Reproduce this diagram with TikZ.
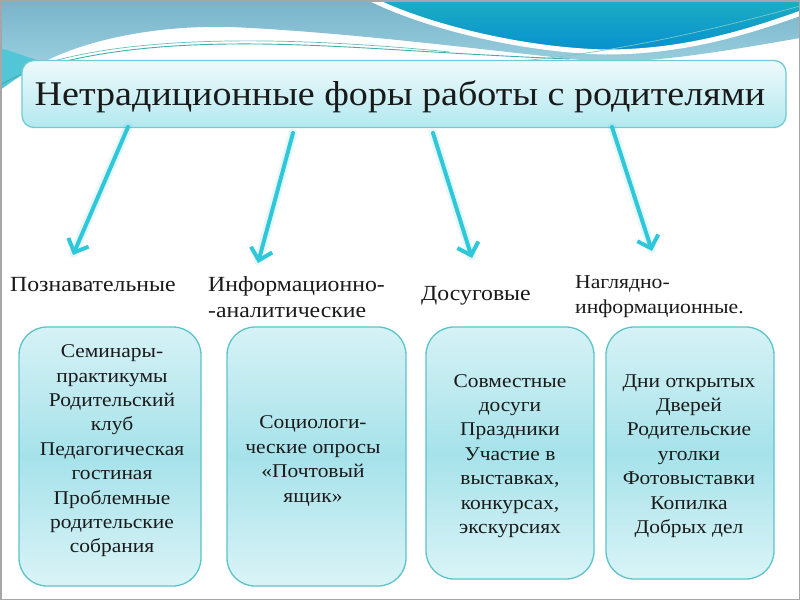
\documentclass[tikz,border=0pt]{standalone}
\usepackage{fontspec}
\setmainfont{Liberation Serif}[FakeStretch=1.1]
\usetikzlibrary{arrows.meta}
\definecolor{arrowc}{HTML}{2FC8DA}
\definecolor{boxedge}{HTML}{5CC3CB}
\definecolor{boxtop}{HTML}{D6F2F6}
\definecolor{boxmid}{HTML}{A6E2EA}
\definecolor{boxbot}{HTML}{DAF4F7}
\definecolor{titletop}{HTML}{EEFAFC}
\definecolor{titlebot}{HTML}{B3E9EF}
\definecolor{titleedge}{HTML}{70CBD3}
\definecolor{txt}{HTML}{1A1A1A}
\definecolor{bandA}{HTML}{78B3CA}
\definecolor{bandAb}{HTML}{A6DAE6}
\definecolor{bandC}{HTML}{1DB0C2}
\definecolor{bandCb}{HTML}{0790CF}
\definecolor{leftcyan}{HTML}{52C6D6}
\definecolor{thinline}{HTML}{3DB0AE}
\begin{document}
\begin{tikzpicture}[x=1pt,y=-1pt,
  arr/.style={draw=arrowc, line width=4, line cap=round, -{Straight Barb[length=11,width=22]}},
  glow/.style={draw=arrowc, line width=9, opacity=0.12, line cap=round, shorten >=2},
  formbox/.style={draw=boxedge, line width=1.3, rounded corners=28, top color=boxtop, bottom color=boxbot, middle color=boxmid, inner sep=0},
  boxtext/.style={text=txt, align=center, inner sep=0, font=\fontsize{19.5}{24.4}\selectfont},
  kind/.style={text=txt, inner sep=0, align=left, anchor=base west, font=\fontsize{21.6}{26}\selectfont},
  kindsmall/.style={text=txt, inner sep=0, align=left, anchor=base west, font=\fontsize{19.7}{25}\selectfont},
]
\useasboundingbox (0,0) rectangle (800,600);
\fill[white] (0,0) rectangle (800,600);
% decorative top band
\shade[top color=bandA, bottom color=bandAb]
  (0,0) -- (800,0) -- (800,38) .. controls (720,52) and (660,62) .. (600,62)
  .. controls (500,52) and (350,32) .. (230,27) .. controls (150,25) and (80,42) .. (40,64)
  .. controls (20,75) and (10,84) .. (0,90) -- cycle;
\fill[leftcyan] (0,48) .. controls (20,54) and (35,60) .. (45,62) .. controls (25,72) and (10,82) .. (0,90) -- cycle;
\shade[top color=bandC, bottom color=bandCb, draw=white, line width=5]
  (365,-4) .. controls (420,25) and (520,50) .. (605,52) .. controls (680,52) and (740,35) .. (804,12) -- (804,-4) -- cycle;
\draw[thinline, line width=0.9] (0,85) .. controls (40,62) and (120,45) .. (230,44) .. controls (330,43) and (420,53) .. (570,59);
\draw[thinline!80, line width=0.7] (50,62) .. controls (100,48) and (160,42) .. (230,41) .. controls (300,40) and (380,45) .. (450,52);
\draw[thinline!70, line width=0.7] (520,61) .. controls (620,52) and (720,28) .. (800,6);
% frame
\draw[gray!70, line width=1.5] (0.75,0.75) rectangle (799.25,599.25);
% title
\node[draw=titleedge, line width=1.3, rounded corners=12, top color=titletop, bottom color=titlebot,
      minimum width=764, minimum height=67, inner sep=0] (title) at (404,94) {};
\node[text=txt, inner sep=0, anchor=base, font=\fontsize{34.6}{40}\selectfont] (titletext) at (400,105) {Нетрадиционные форы работы с родителями};
% arrows
\coordinate (s1) at (128,127); \coordinate (e1) at (73,255);
\coordinate (s2) at (293,133); \coordinate (e2) at (258,263);
\coordinate (s3) at (433,133); \coordinate (e3) at (472,258);
\coordinate (s4) at (612,127); \coordinate (e4) at (652,251);
\foreach \i in {1,2,3,4} {
  \draw[glow] (s\i) -- (e\i);
  \draw[arr] (s\i) -- (e\i);
}
% kind labels
\node[kind] (k1) at (10,291) {Познавательные};
\node[kind] (k2) at (208,317) {Информационно-\\-аналитические};
\node[kind] (k3) at (421,300) {Досуговые};
\node[kindsmall] (k4) at (575,313) {Наглядно-\\информационные.};
% boxes
\node[formbox, minimum width=182, minimum height=259] (b1) at (110,456.5) {};
\node[formbox, minimum width=179, minimum height=259] (b2) at (316.5,456.5) {};
\node[formbox, minimum width=168, minimum height=252] (b3) at (510,453) {};
\node[formbox, minimum width=168, minimum height=252] (b4) at (690,453) {};
\node[boxtext] (t1) at (112,451) {Семинары-\\практикумы\\Родительский\\клуб\\Педагогическая\\гостиная\\Проблемные\\родительские\\собрания};
\node[boxtext] (t2) at (313,461) {Социологи-\\ческие опросы\\«Почтовый\\ящик»};
\node[boxtext] (t3) at (510,456) {Совместные\\досуги\\Праздники\\Участие в\\выставках,\\конкурсах,\\экскурсиях};
\node[boxtext] (t4) at (689,456) {Дни открытых\\Дверей\\Родительские\\уголки\\Фотовыставки\\Копилка\\Добрых дел};
\end{tikzpicture}
\end{document}
